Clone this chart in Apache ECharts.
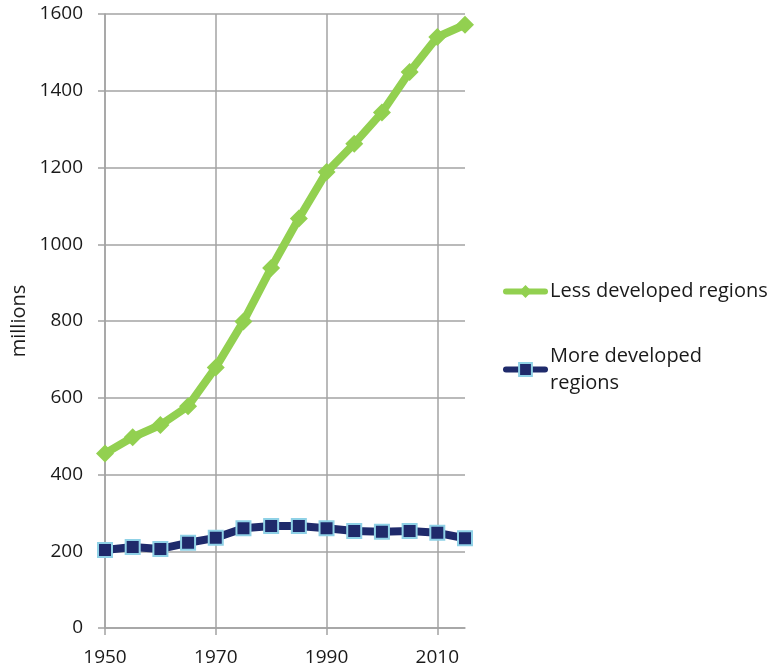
<!DOCTYPE html>
<html>
<head>
<meta charset="utf-8">
<script src="https://cdn.jsdelivr.net/npm/echarts@6/dist/echarts.min.js"></script>
<style>
  html, body { margin: 0; padding: 0; background: #fff; }
  #chart { width: 773px; height: 671px; }
</style>
</head>
<body>
<div id="chart"></div>
<script>
// Population by development group, 1950–2015 (millions)
const years = [1950, 1955, 1960, 1965, 1970, 1975, 1980, 1985, 1990, 1995, 2000, 2005, 2010, 2015];
const lessDeveloped = [455, 497, 529, 578, 679, 799, 938, 1067, 1188, 1262, 1343, 1449, 1540, 1572];
const moreDeveloped = [203, 211, 206, 222, 235, 260, 266, 266, 260, 253, 251, 253, 248, 234];
const yearTicks = [1950, 1970, 1990, 2010];
const seriesNames = ['Less developed regions', 'More developed regions'];

const FONT = '"Open Sans", "Noto Sans", sans-serif';
const GRID_COLOR = '#a3a3a3';
const TEXT_COLOR = '#1a1a1a';

const pairs = (xs, ys) => xs.map((x, i) => [x, ys[i]]);
const plain = v => String(v);

const chart = echarts.init(document.getElementById('chart'), null, { renderer: 'canvas' });

chart.setOption({
  animation: false,
  backgroundColor: '#ffffff',
  grid: { left: 105, top: 14, right: 308, bottom: 43, containLabel: false },
  xAxis: {
    type: 'value',
    min: 1950,
    max: 2015,
    interval: 20,
    axisLine: { show: true, lineStyle: { color: GRID_COLOR, width: 1.5 } },
    axisTick: { show: true, length: 7, customValues: yearTicks, lineStyle: { color: GRID_COLOR, width: 1.5 } },
    axisLabel: { customValues: yearTicks, margin: 20, fontSize: 19, color: TEXT_COLOR, fontFamily: FONT, formatter: plain },
    splitLine: { show: true, lineStyle: { color: GRID_COLOR, width: 1.5 } }
  },
  yAxis: {
    type: 'value',
    min: 0,
    max: 1600,
    interval: 200,
    name: 'millions',
    nameLocation: 'middle',
    nameRotate: 90,
    nameGap: 76,
    nameTextStyle: { fontSize: 20, color: TEXT_COLOR, fontFamily: FONT },
    axisLine: { show: true, lineStyle: { color: GRID_COLOR, width: 1.5 } },
    axisTick: { show: true, length: 7, lineStyle: { color: GRID_COLOR, width: 1.5 } },
    axisLabel: { margin: 22, fontSize: 19, color: TEXT_COLOR, fontFamily: FONT, formatter: plain },
    splitLine: { show: true, lineStyle: { color: GRID_COLOR, width: 1.5 } }
  },
  legend: {
    orient: 'vertical',
    left: 498,
    top: 273,
    itemWidth: 39,
    itemHeight: 16,
    itemGap: 24,
    lineStyle: { width: 6, cap: 'round' },
    textStyle: { fontSize: 20, color: TEXT_COLOR, fontFamily: FONT, lineHeight: 27 },
    formatter: name => name === 'More developed regions' ? 'More developed\nregions' : name,
    data: [
      { name: seriesNames[0] },
      { name: seriesNames[1], textStyle: { padding: [27, 0, 0, 0] } }
    ]
  },
  series: [
    {
      name: seriesNames[0],
      type: 'line',
      data: pairs(years, lessDeveloped),
      symbol: 'diamond',
      symbolSize: 18,
      lineStyle: { color: '#92d050', width: 8 },
      itemStyle: { color: '#92d050' }
    },
    {
      name: seriesNames[1],
      type: 'line',
      data: pairs(years, moreDeveloped),
      symbol: 'rect',
      symbolSize: 14,
      lineStyle: { color: '#1f2a6b', width: 8 },
      itemStyle: { color: '#1f2a6b', borderColor: '#8fd1e6', borderWidth: 2 }
    }
  ]
});
</script>
</body>
</html>
